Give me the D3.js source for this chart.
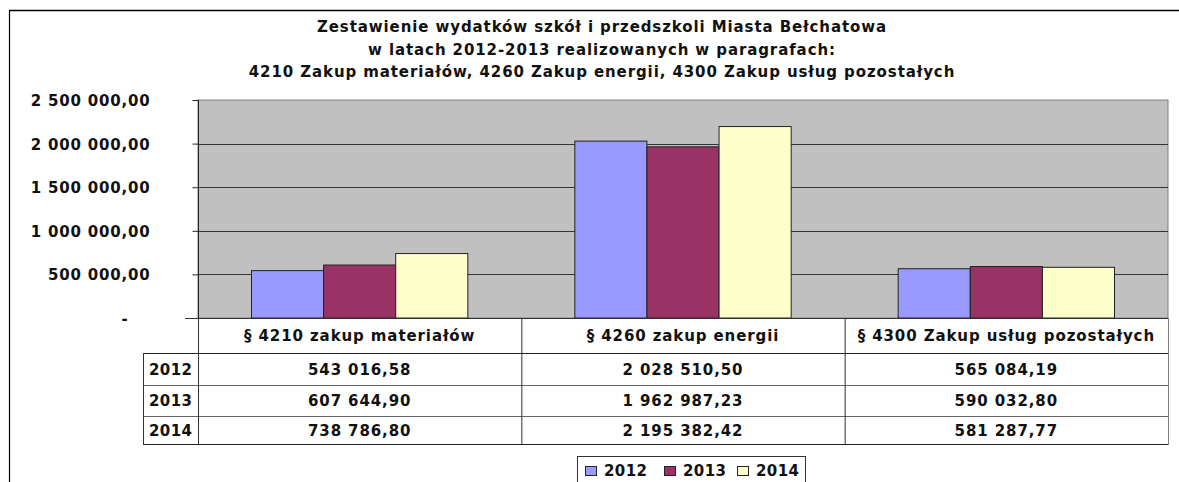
<!DOCTYPE html>
<html lang="pl">
<head>
<meta charset="utf-8">
<title>wydatki szkół</title>
<script src="https://d3js.org/d3.v7.min.js"></script>
<style>
  body{margin:0;background:#fff;}
  svg{display:block;font-family:"DejaVu Sans",Verdana,sans-serif;font-weight:bold;}
</style>
</head>
<body>
<div id="chart"></div>
<script>
// data
var categories = ["§ 4210 zakup materiałów", "§ 4260 zakup energii", "§ 4300 Zakup usług pozostałych"]
var years = ["2012", "2013", "2014"]
var values2012 = [543016.58, 2028510.50, 565084.19]
var values2013 = [607644.90, 1962987.23, 590032.80]
var values2014 = [738786.80, 2195382.42, 581287.77]
var yTicks = [0, 500000, 1000000, 1500000, 2000000, 2500000]
var titleLines = [
  "Zestawienie wydatków szkół i przedszkoli Miasta Bełchatowa",
  "w latach 2012-2013 realizowanych w paragrafach:",
  "4210 Zakup materiałów, 4260 Zakup energii, 4300 Zakup usług pozostałych"
]
var colors = ["#9999ff", "#993366", "#ffffcc"]

var series = [values2012, values2013, values2014]

var W = 1179, H = 482
var plot = {left: 198, right: 1168, top: 100, bottom: 318}
var rowH = [353, 385, 416, 444]   // lines under header and each row
var tableLeft = 143

var svg = d3.select("#chart").append("svg")
  .attr("width", W).attr("height", H)

// clipped text sitting above the frame
svg.append("text").attr("x", 1043).attr("y", -5)
  .attr("font-size", 22).attr("fill", "#5b3b22").text("y")

// outer frame (top and left only are visible)
svg.append("line").attr("x1", 9).attr("x2", W).attr("y1", 10.5).attr("y2", 10.5)
  .attr("stroke", "#000").attr("stroke-width", 1.5)
svg.append("line").attr("x1", 9.5).attr("x2", 9.5).attr("y1", 10).attr("y2", H)
  .attr("stroke", "#000").attr("stroke-width", 1.2)

// title
svg.selectAll(".title").data(titleLines).enter().append("text")
  .attr("class", "title")
  .attr("x", 602)
  .attr("y", function(d, i){ return [32, 54.5, 77][i] })
  .attr("text-anchor", "middle")
  .attr("font-size", 15)
  .attr("letter-spacing", 0.9)
  .attr("fill", "#111")
  .text(function(d){ return d })

var yScale = d3.scaleLinear().domain([0, 2500000]).range([plot.bottom, plot.top])
var x0 = d3.scaleBand().domain(categories).range([plot.left, plot.right]).padding(0)
var x1 = d3.scaleBand().domain(years).range([0, x0.bandwidth()]).paddingInner(0).paddingOuter(0.742)

// plot background
svg.append("rect")
  .attr("x", plot.left).attr("y", plot.top)
  .attr("width", plot.right - plot.left).attr("height", plot.bottom - plot.top)
  .attr("fill", "#c0c0c0").attr("stroke", "#808080")

// gridlines
svg.selectAll(".grid").data(yTicks.slice(1, -1)).enter().append("line")
  .attr("class", "grid")
  .attr("x1", plot.left).attr("x2", plot.right)
  .attr("y1", function(d){ return Math.round(yScale(d)) + 0.5 })
  .attr("y2", function(d){ return Math.round(yScale(d)) + 0.5 })
  .attr("stroke", "#333").attr("stroke-width", 1)

// y axis
var fmt = d3.formatLocale({decimal: ",", thousands: " ", grouping: [3], currency: ["", ""]}).format(",.2f")
var yAxis = d3.axisLeft(yScale).tickValues(yTicks).tickSize(6).tickPadding(0)
  .tickFormat(function(d){ return d === 0 ? "-" : fmt(d) })
var gy = svg.append("g")
  .attr("transform", "translate(" + (plot.left + 0.5) + ",0)")
  .call(yAxis)
gy.select(".domain").attr("stroke", "#222").attr("d", "M0," + plot.top + "V" + plot.bottom)
gy.selectAll(".tick line").attr("stroke", "#222")
gy.selectAll(".tick text")
  .attr("x", function(d){ return d === 0 ? -70 : -48 })
  .attr("dy", "0.36em")
  .attr("font-size", 15)
  .attr("letter-spacing", 0.8)
  .attr("font-family", "DejaVu Sans, Verdana, sans-serif")
  .attr("font-weight", "bold")
  .attr("fill", "#111")

// bars
var groups = svg.selectAll(".cat").data(categories).enter().append("g")
  .attr("class", "cat")
  .attr("transform", function(d){ return "translate(" + x0(d) + ",0)" })
groups.selectAll("rect")
  .data(function(d, ci){ return years.map(function(y, si){ return {year: y, value: series[si][ci], si: si} }) })
  .enter().append("rect")
  .attr("x", function(d){ return x1(d.year) })
  .attr("y", function(d){ return yScale(d.value) })
  .attr("width", x1.bandwidth())
  .attr("height", function(d){ return plot.bottom - yScale(d.value) })
  .attr("fill", function(d){ return colors[d.si] })
  .attr("stroke", "#222").attr("stroke-width", 1)

// data table
var tg = svg.append("g").attr("stroke", "#333").attr("stroke-width", 1)
tg.append("line").attr("x1", 185).attr("x2", plot.right).attr("y1", plot.bottom + 0.5).attr("y2", plot.bottom + 0.5)
rowH.forEach(function(y, i){
  tg.append("line").attr("x1", tableLeft).attr("x2", plot.right)
    .attr("y1", y + 0.5).attr("y2", y + 0.5)
    .attr("stroke", i === 0 || i === 3 ? "#222" : "#666")
})
tg.append("line").attr("x1", tableLeft + 0.5).attr("x2", tableLeft + 0.5).attr("y1", rowH[0]).attr("y2", rowH[3] + 1)
x0.domain().forEach(function(c){
  tg.append("line").attr("x1", x0(c) + 0.5).attr("x2", x0(c) + 0.5).attr("y1", plot.bottom).attr("y2", rowH[3] + 1)
})
tg.append("line").attr("x1", plot.right + 0.5).attr("x2", plot.right + 0.5).attr("y1", plot.bottom).attr("y2", rowH[3] + 1)
  .attr("stroke", "#808080")

svg.selectAll(".colhead").data(categories).enter().append("text")
  .attr("class", "colhead")
  .attr("x", function(d){ return x0(d) + x0.bandwidth() / 2 })
  .attr("y", 341)
  .attr("text-anchor", "middle").attr("font-size", 15).attr("letter-spacing", 0.9).attr("fill", "#111")
  .text(function(d){ return d })

var rowBase = [375, 406, 436]
years.forEach(function(y, si){
  svg.append("text").attr("x", 149).attr("y", rowBase[si])
    .attr("font-size", 15).attr("letter-spacing", 0.4).attr("fill", "#111").text(y)
  svg.selectAll(".cell" + si).data(series[si]).enter().append("text")
    .attr("class", "cell" + si)
    .attr("x", function(d, ci){ return x0(categories[ci]) + x0.bandwidth() / 2 })
    .attr("y", rowBase[si])
    .attr("text-anchor", "middle").attr("font-size", 15).attr("letter-spacing", 0.9).attr("fill", "#111")
    .text(function(d){ return fmt(d) })
})

// legend
var lg = svg.append("g").attr("transform", "translate(577,456)")
lg.append("rect").attr("x", 0.5).attr("y", 0.5).attr("width", 228).attr("height", 40)
  .attr("fill", "#fff").attr("stroke", "#333")
var lx = [8, 87, 160]
years.forEach(function(y, i){
  lg.append("rect").attr("x", lx[i] + 0.5).attr("y", 10.5).attr("width", 11).attr("height", 9)
    .attr("fill", colors[i]).attr("stroke", "#222")
  lg.append("text").attr("x", lx[i] + 19).attr("y", 20)
    .attr("font-size", 15).attr("letter-spacing", 0.4).attr("fill", "#111").text(y)
})
</script>
</body>
</html>
